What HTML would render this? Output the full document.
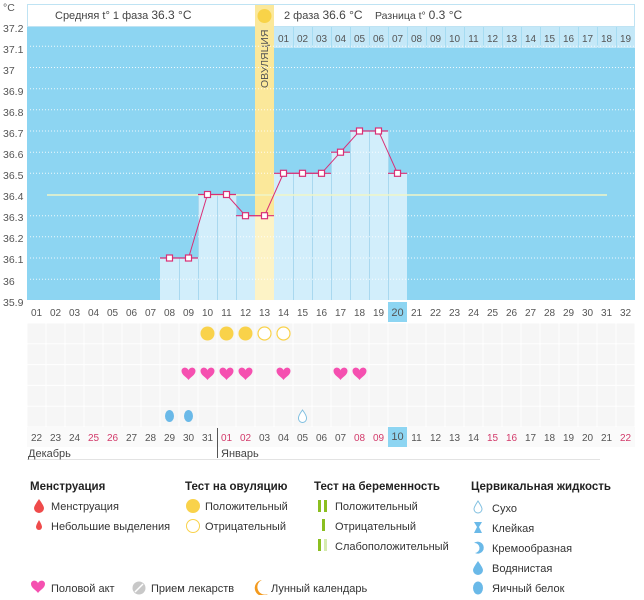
<!DOCTYPE html>
<html><head><meta charset="utf-8"><style>
body{margin:0;background:#fff;width:644px;height:595px;overflow:hidden;font-family:"Liberation Sans","DejaVu Sans",sans-serif}
svg text{font-family:"Liberation Sans","DejaVu Sans",sans-serif}
</style></head><body>
<svg width="644" height="595" viewBox="0 0 644 595" xmlns="http://www.w3.org/2000/svg">
<defs>
<path id="hrt" d="M0 4 C-2 1 -7 -1 -7 -5 C-7 -8 -4 -9 -2 -8 C-1 -7.5 0 -6.5 0 -5.5 C0 -6.5 1 -7.5 2 -8 C4 -9 7 -8 7 -5 C7 -1 2 1 0 4Z"/>
<pattern id="cells" x="27" y="323" width="19" height="20.8" patternUnits="userSpaceOnUse"><rect width="19" height="20.8" fill="#fff"/><rect x="0.5" y="0.5" width="18" height="19.8" fill="#f6f6f6"/></pattern>
</defs>
<!-- header -->
<rect x="27.5" y="4.5" width="607" height="22" fill="#fff" stroke="#bfe3f3"/>
<text x="55" y="19" font-size="11" fill="#444">Средняя t° 1 фаза <tspan font-size="12">36.3 °C</tspan></text>
<text x="284" y="19" font-size="11" fill="#444">2 фаза <tspan font-size="12">36.6 °C</tspan></text>
<text x="375" y="19" font-size="10.5" fill="#444">Разница t° <tspan font-size="12">0.3 °C</tspan></text>
<!-- plot bg -->
<rect x="27" y="27" width="608" height="273" fill="#8dd5f2"/>
<rect x="274" y="27" width="361" height="21" fill="#c4e8f8"/>
<g stroke="#a6dcf2" stroke-width="1">
<line x1="293.5" y1="27" x2="293.5" y2="48"/><line x1="312.5" y1="27" x2="312.5" y2="48"/><line x1="331.5" y1="27" x2="331.5" y2="48"/><line x1="350.5" y1="27" x2="350.5" y2="48"/><line x1="369.5" y1="27" x2="369.5" y2="48"/><line x1="388.5" y1="27" x2="388.5" y2="48"/><line x1="407.5" y1="27" x2="407.5" y2="48"/><line x1="426.5" y1="27" x2="426.5" y2="48"/><line x1="445.5" y1="27" x2="445.5" y2="48"/><line x1="464.5" y1="27" x2="464.5" y2="48"/><line x1="483.5" y1="27" x2="483.5" y2="48"/><line x1="502.5" y1="27" x2="502.5" y2="48"/><line x1="521.5" y1="27" x2="521.5" y2="48"/><line x1="540.5" y1="27" x2="540.5" y2="48"/><line x1="559.5" y1="27" x2="559.5" y2="48"/><line x1="578.5" y1="27" x2="578.5" y2="48"/><line x1="597.5" y1="27" x2="597.5" y2="48"/><line x1="616.5" y1="27" x2="616.5" y2="48"/>
</g>
<g font-size="10" fill="#555" text-anchor="middle">
<text x="283.5" y="42">01</text><text x="302.5" y="42">02</text><text x="321.5" y="42">03</text><text x="340.5" y="42">04</text><text x="359.5" y="42">05</text><text x="378.5" y="42">06</text><text x="397.5" y="42">07</text><text x="416.5" y="42">08</text><text x="435.5" y="42">09</text><text x="454.5" y="42">10</text><text x="473.5" y="42">11</text><text x="492.5" y="42">12</text><text x="511.5" y="42">13</text><text x="530.5" y="42">14</text><text x="549.5" y="42">15</text><text x="568.5" y="42">16</text><text x="587.5" y="42">17</text><text x="606.5" y="42">18</text><text x="625.5" y="42">19</text>
</g>
<!-- ovulation column -->
<rect x="255" y="5" width="19" height="295" fill="#fbe89a"/>
<circle cx="264.5" cy="16" r="7" fill="#f8d348"/>
<text transform="translate(268,88) rotate(-90)" font-size="10.5" fill="#555">ОВУЛЯЦИЯ</text>
<!-- bars -->
<g fill="#d2eefb">
<rect x="160" y="258" width="38" height="42"/>
<rect x="198" y="194.5" width="38" height="105.5"/>
<rect x="236" y="215.7" width="19" height="84.3"/>
<rect x="274" y="173.3" width="57" height="126.7"/>
<rect x="331" y="152.2" width="19" height="147.8"/>
<rect x="350" y="131" width="38" height="169"/>
<rect x="388" y="173.3" width="19" height="126.7"/>
</g>
<rect x="255" y="215.7" width="19" height="84.3" fill="#fdf3c6"/>
<g stroke="#a9d8ef" stroke-width="1">
<line x1="179.5" y1="258" x2="179.5" y2="300"/><line x1="198.5" y1="194" x2="198.5" y2="300"/><line x1="217.5" y1="194" x2="217.5" y2="300"/><line x1="236.5" y1="194" x2="236.5" y2="300"/><line x1="293.5" y1="173" x2="293.5" y2="300"/><line x1="312.5" y1="173" x2="312.5" y2="300"/><line x1="331.5" y1="152" x2="331.5" y2="300"/><line x1="350.5" y1="131" x2="350.5" y2="300"/><line x1="369.5" y1="131" x2="369.5" y2="300"/><line x1="388.5" y1="131" x2="388.5" y2="300"/>
</g>
<!-- gridlines -->
<g stroke="#fff" stroke-width="1" stroke-dasharray="1,2" opacity="0.85">
<line x1="30" y1="46.3" x2="634" y2="46.3"/><line x1="30" y1="67.5" x2="634" y2="67.5"/><line x1="30" y1="88.7" x2="634" y2="88.7"/><line x1="30" y1="109.8" x2="634" y2="109.8"/><line x1="30" y1="131" x2="634" y2="131"/><line x1="30" y1="152.2" x2="634" y2="152.2"/><line x1="30" y1="173.3" x2="634" y2="173.3"/><line x1="30" y1="215.7" x2="634" y2="215.7"/><line x1="30" y1="236.8" x2="634" y2="236.8"/><line x1="30" y1="258" x2="634" y2="258"/><line x1="30" y1="279.2" x2="634" y2="279.2"/>
</g>
<line x1="47" y1="195" x2="607" y2="195" stroke="#f0f5c8" stroke-width="1.5"/>
<!-- series -->
<g stroke="#d92f76" stroke-width="1.2">
<line x1="160" y1="258" x2="198" y2="258"/><line x1="198" y1="194.5" x2="236" y2="194.5"/><line x1="236" y1="215.7" x2="274" y2="215.7"/><line x1="274" y1="173.3" x2="331" y2="173.3"/><line x1="331" y1="152.2" x2="350" y2="152.2"/><line x1="350" y1="131" x2="388" y2="131"/><line x1="388" y1="173.3" x2="407" y2="173.3"/>
</g>
<polyline fill="none" stroke="#d92f76" stroke-width="1" points="169.5,258 188.5,258 207.5,194.5 226.5,194.5 245.5,215.7 264.5,215.7 283.5,173.3 302.5,173.3 321.5,173.3 340.5,152.2 359.5,131 378.5,131 397.5,173.3"/>
<g fill="#fff" stroke="#d92f76" stroke-width="1.2">
<rect x="166.5" y="255" width="6" height="6"/><rect x="185.5" y="255" width="6" height="6"/><rect x="204.5" y="191.5" width="6" height="6"/><rect x="223.5" y="191.5" width="6" height="6"/><rect x="242.5" y="212.7" width="6" height="6"/><rect x="261.5" y="212.7" width="6" height="6"/><rect x="280.5" y="170.3" width="6" height="6"/><rect x="299.5" y="170.3" width="6" height="6"/><rect x="318.5" y="170.3" width="6" height="6"/><rect x="337.5" y="149.2" width="6" height="6"/><rect x="356.5" y="128" width="6" height="6"/><rect x="375.5" y="128" width="6" height="6"/><rect x="394.5" y="170.3" width="6" height="6"/>
</g>
<!-- y labels -->
<g font-size="10.5" fill="#555">
<text x="3" y="11">°C</text>
<text x="3" y="32">37.2</text><text x="3" y="53">37.1</text><text x="3" y="74">37</text><text x="3" y="95">36.9</text><text x="3" y="116">36.8</text><text x="3" y="137">36.7</text><text x="3" y="158">36.6</text><text x="3" y="179">36.5</text><text x="3" y="200">36.4</text><text x="3" y="221">36.3</text><text x="3" y="242">36.2</text><text x="3" y="263">36.1</text><text x="3" y="285">36</text><text x="3" y="306">35.9</text>
</g>
<!-- day row -->
<rect x="388" y="302" width="19" height="20" fill="#8dd5f2"/>
<g font-size="10" fill="#555" text-anchor="middle">
<text x="36.5" y="316">01</text><text x="55.5" y="316">02</text><text x="74.5" y="316">03</text><text x="93.5" y="316">04</text><text x="112.5" y="316">05</text><text x="131.5" y="316">06</text><text x="150.5" y="316">07</text><text x="169.5" y="316">08</text><text x="188.5" y="316">09</text><text x="207.5" y="316">10</text><text x="226.5" y="316">11</text><text x="245.5" y="316">12</text><text x="264.5" y="316">13</text><text x="283.5" y="316">14</text><text x="302.5" y="316">15</text><text x="321.5" y="316">16</text><text x="340.5" y="316">17</text><text x="359.5" y="316">18</text><text x="378.5" y="316">19</text><text x="397.5" y="316" font-size="11">20</text><text x="416.5" y="316">21</text><text x="435.5" y="316">22</text><text x="454.5" y="316">23</text><text x="473.5" y="316">24</text><text x="492.5" y="316">25</text><text x="511.5" y="316">26</text><text x="530.5" y="316">27</text><text x="549.5" y="316">28</text><text x="568.5" y="316">29</text><text x="587.5" y="316">30</text><text x="606.5" y="316">31</text><text x="625.5" y="316">32</text>
</g>
<!-- lower grid -->
<rect x="27" y="323" width="608" height="104" fill="url(#cells)"/>
<rect x="27" y="427" width="608" height="20" fill="#fafafa"/>
<g fill="#f9d24a"><circle cx="207.5" cy="333.5" r="7"/><circle cx="226.5" cy="333.5" r="7"/><circle cx="245.5" cy="333.5" r="7"/></g>
<g fill="#fff" stroke="#f9d24a" stroke-width="1.2"><circle cx="264.5" cy="333.5" r="6.5"/><circle cx="283.5" cy="333.5" r="6.5"/></g>
<g fill="#f550b0">
<use href="#hrt" x="188.5" y="376"/><use href="#hrt" x="207.5" y="376"/><use href="#hrt" x="226.5" y="376"/><use href="#hrt" x="245.5" y="376"/><use href="#hrt" x="283.5" y="376"/><use href="#hrt" x="340.5" y="376"/><use href="#hrt" x="359.5" y="376"/>
</g>
<g fill="#6ab9e8"><ellipse cx="169.5" cy="416" rx="4.5" ry="6"/><ellipse cx="188.5" cy="416" rx="4.5" ry="6"/></g>
<path d="M302.5 410 Q298 416 298.5 418.5 A4 4 0 0 0 306.5 418.5 Q307 416 302.5 410Z" fill="#fff" stroke="#7fbfe0"/>
<!-- dates -->
<rect x="388" y="427" width="19" height="20" fill="#8dd5f2"/>
<g font-size="10" fill="#555" text-anchor="middle">
<text x="36.5" y="441">22</text><text x="55.5" y="441">23</text><text x="74.5" y="441">24</text><text x="93.5" y="441" fill="#d23a6a">25</text><text x="112.5" y="441" fill="#d23a6a">26</text><text x="131.5" y="441">27</text><text x="150.5" y="441">28</text><text x="169.5" y="441">29</text><text x="188.5" y="441">30</text><text x="207.5" y="441">31</text><text x="226.5" y="441" fill="#d23a6a">01</text><text x="245.5" y="441" fill="#d23a6a">02</text><text x="264.5" y="441">03</text><text x="283.5" y="441">04</text><text x="302.5" y="441">05</text><text x="321.5" y="441">06</text><text x="340.5" y="441">07</text><text x="359.5" y="441" fill="#d23a6a">08</text><text x="378.5" y="441" fill="#d23a6a">09</text><text x="397.5" y="440" font-size="11">10</text><text x="416.5" y="441">11</text><text x="435.5" y="441">12</text><text x="454.5" y="441">13</text><text x="473.5" y="441">14</text><text x="492.5" y="441" fill="#d23a6a">15</text><text x="511.5" y="441" fill="#d23a6a">16</text><text x="530.5" y="441">17</text><text x="549.5" y="441">18</text><text x="568.5" y="441">19</text><text x="587.5" y="441">20</text><text x="606.5" y="441">21</text><text x="625.5" y="441" fill="#d23a6a">22</text>
</g>
<line x1="217.5" y1="428" x2="217.5" y2="458" stroke="#555"/>
<line x1="27" y1="459.5" x2="600" y2="459.5" stroke="#e3e3e3"/>
<text x="28" y="457" font-size="11" fill="#444">Декабрь</text>
<text x="221" y="457" font-size="11" fill="#444">Январь</text>
<!-- legend -->
<g font-size="11.5" fill="#222" font-weight="bold">
<text x="30" y="490">Менструация</text><text x="185" y="490">Тест на овуляцию</text><text x="314" y="490">Тест на беременность</text><text x="471" y="490">Цервикальная жидкость</text>
</g>
<g font-size="11" fill="#333">
<text x="51" y="510">Менструация</text><text x="51" y="530">Небольшие выделения</text>
<text x="205" y="510">Положительный</text><text x="205" y="530">Отрицательный</text>
<text x="335" y="510">Положительный</text><text x="335" y="530">Отрицательный</text><text x="335" y="550">Слабоположительный</text>
<text x="492" y="512">Сухо</text><text x="492" y="532">Клейкая</text><text x="492" y="552">Кремообразная</text><text x="492" y="572">Водянистая</text><text x="492" y="592">Яичный белок</text>
<text x="51" y="592">Половой акт</text><text x="151" y="592">Прием лекарств</text><text x="271" y="592">Лунный календарь</text>
</g>
<path d="M39 499 Q34 506 34 508 A5 5 0 0 0 44 508 Q44 506 39 499Z" fill="#ef4b4b"/>
<path d="M39 520 Q36 525 36 527 A3 3 0 0 0 42 527 Q42 525 39 520Z" fill="#ef4b4b"/>
<circle cx="193" cy="506" r="7" fill="#f9d24a"/>
<circle cx="193" cy="526" r="6.5" fill="#fff" stroke="#f9d24a"/>
<rect x="318" y="500" width="3" height="12" fill="#8bbf20"/><rect x="324" y="500" width="3" height="12" fill="#8bbf20"/>
<rect x="322" y="519" width="3" height="12" fill="#8bbf20"/>
<rect x="318" y="539" width="3" height="12" fill="#8bbf20"/><rect x="324" y="539" width="3" height="12" fill="#d6ebb0"/>
<path d="M478 501 Q474 507 474 509 A4 4 0 0 0 482 509 Q482 507 478 501Z" fill="#fff" stroke="#7fbfe0"/>
<path d="M474 522 H482 L479 527 L482 533 H474 L477 527Z" fill="#6ab9e8"/>
<path d="M474 543 A6 6 0 1 1 475 553 A5 5 0 0 0 474 543Z" fill="#6ab9e8"/>
<path d="M478 561 Q473 568 473 570 A5 5 0 0 0 483 570 Q483 568 478 561Z" fill="#6ab9e8"/>
<ellipse cx="478" cy="588" rx="5" ry="6.5" fill="#6ab9e8"/>
<use href="#hrt" x="38" y="589" fill="#f550b0"/>
<circle cx="139" cy="588" r="6.5" fill="#c8c8c8"/><line x1="135" y1="592" x2="143" y2="584" stroke="#fff" stroke-width="1.5"/>
<path d="M262 580 A8 8 0 1 0 268 594 A7 7 0 0 1 262 580Z" fill="#f39a1e"/>
</svg>
</body></html>
